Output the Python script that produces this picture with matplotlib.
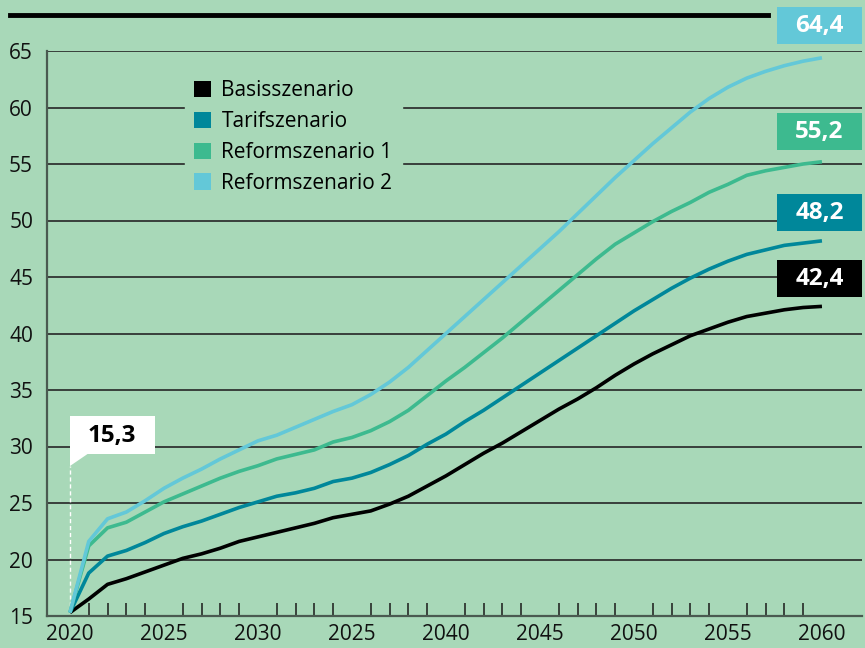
import matplotlib
matplotlib.use("Agg")
import matplotlib.pyplot as plt
from matplotlib.patches import Patch, Rectangle, Polygon
from matplotlib.lines import Line2D

BG = "#A8D8B8"

years = list(range(2020, 2061))

basis = [15.3, 16.5, 17.8, 18.3, 18.9, 19.5, 20.1, 20.5, 21.0, 21.6,
         22.0, 22.4, 22.8, 23.2, 23.7, 24.0, 24.3, 24.9, 25.6, 26.5,
         27.4, 28.4, 29.4, 30.3, 31.3, 32.3, 33.3, 34.2, 35.2, 36.3,
         37.3, 38.2, 39.0, 39.8, 40.4, 41.0, 41.5, 41.8, 42.1, 42.3,
         42.4]
tarif = [15.3, 18.8, 20.3, 20.8, 21.5, 22.3, 22.9, 23.4, 24.0, 24.6,
         25.1, 25.6, 25.9, 26.3, 26.9, 27.2, 27.7, 28.4, 29.2, 30.2,
         31.1, 32.2, 33.2, 34.3, 35.4, 36.5, 37.6, 38.7, 39.8, 40.9,
         42.0, 43.0, 44.0, 44.9, 45.7, 46.4, 47.0, 47.4, 47.8, 48.0,
         48.2]
reform1 = [15.3, 21.2, 22.8, 23.3, 24.2, 25.1, 25.8, 26.5, 27.2, 27.8,
           28.3, 28.9, 29.3, 29.7, 30.4, 30.8, 31.4, 32.2, 33.2, 34.5,
           35.8, 37.0, 38.3, 39.6, 41.0, 42.4, 43.8, 45.2, 46.6, 47.9,
           48.9, 49.9, 50.8, 51.6, 52.5, 53.2, 54.0, 54.4, 54.7, 55.0,
           55.2]
reform2 = [15.3, 21.6, 23.6, 24.2, 25.2, 26.3, 27.2, 28.0, 28.9, 29.7,
           30.5, 31.0, 31.7, 32.4, 33.1, 33.7, 34.6, 35.7, 37.0, 38.5,
           40.0, 41.5, 43.0, 44.5, 46.0, 47.5, 49.0, 50.6, 52.2, 53.8,
           55.3, 56.8, 58.2, 59.6, 60.8, 61.8, 62.6, 63.2, 63.7, 64.1,
           64.4]

series_names = ["Basisszenario", "Tarifszenario", "Reformszenario 1", "Reformszenario 2"]
series_colors = ["#000000", "#00879A", "#3DBA8F", "#63C8D8"]
series_values = [basis, tarif, reform1, reform2]

x_tick_years = [2020, 2025, 2030, 2035, 2040, 2045, 2050, 2055, 2060]
x_tick_labels = ["2020", "2025", "2030", "2025", "2040", "2045", "2050", "2055", "2060"]
y_ticks = [15, 20, 25, 30, 35, 40, 45, 50, 55, 60, 65]

# vertical centre (axes fraction) of the end value boxes
end_box_y = [0.597, 0.714, 0.8575, 1.045]

plt.rcParams["font.family"] = ["Open Sans", "DejaVu Sans"]

fig = plt.figure(figsize=(8.65, 6.48), dpi=100, facecolor=BG)
ax = fig.add_axes([47 / 865, 1 - 616 / 648, 815 / 865, 565 / 648])
ax.set_facecolor(BG)
ax.set_xlim(2018.78, 2062.13)
ax.set_ylim(15, 65)

for yv in y_ticks[1:]:
    ax.axhline(yv, color="#262626", lw=1.2, zorder=1)

for name, color, vals in zip(series_names, series_colors, series_values):
    ax.plot(years, vals, color=color, lw=2.6, zorder=3, solid_capstyle="butt")

for s in ["top", "right"]:
    ax.spines[s].set_visible(False)
for s in ["left", "bottom"]:
    ax.spines[s].set_color("#4a5a50")
    ax.spines[s].set_linewidth(1.6)

ax.set_yticks(y_ticks)
ax.set_yticklabels([str(v) for v in y_ticks])
ax.tick_params(axis="y", length=0, pad=10, labelsize=15, colors="#111111")

ax.set_xticks(x_tick_years)
ax.set_xticklabels(x_tick_labels)
ax.tick_params(axis="x", length=0, pad=6, labelsize=15, colors="#111111")
ax.set_xticks(years[1:], minor=True)
ax.tick_params(axis="x", which="minor", direction="in", length=9.5, width=1.1, color="#1a1a1a")

# start value callout
cx0 = years[0]
ax.plot([cx0, cx0], [basis[0], 28.3], color="white", lw=1, ls=(0, (3, 2)), zorder=2)
ax.add_patch(Polygon([[cx0, 28.3], [cx0, 29.4], [cx0 + 1.0, 29.4]],
                     closed=True, facecolor="white", edgecolor="none", zorder=4))
ax.add_patch(Rectangle((cx0, 29.3), 4.5, 3.4, facecolor="white", edgecolor="none", zorder=4))
ax.text(cx0 + 2.25, 30.95, f"{basis[0]:.1f}".replace(".", ","), ha="center", va="center",
        fontsize=17.5, fontweight="bold", color="black", zorder=5)

# end value boxes
xtr = ax.get_xaxis_transform()
box_w = 4.52
box_h = 0.0655
for color, vals, by in zip(series_colors, series_values, end_box_y):
    ax.add_patch(Rectangle((2057.61, by - box_h / 2), box_w, box_h, transform=xtr,
                           facecolor=color, edgecolor="none", zorder=6, clip_on=False))
    ax.text(2057.61 + box_w / 2, by, f"{vals[-1]:.1f}".replace(".", ","), transform=xtr,
            ha="center", va="center", fontsize=17.5, fontweight="bold", color="white",
            zorder=7, clip_on=False)

# top rule
fig.add_artist(Line2D([10 / 865, 768 / 865], [1 - 15 / 648, 1 - 15 / 648],
                      color="black", lw=3.5))

handles = [Patch(facecolor=c, edgecolor="none", label=n) for n, c in zip(series_names, series_colors)]
leg = ax.legend(handles=handles, loc="upper left", bbox_to_anchor=(185 / 865, 1 - 71 / 648),
                bbox_transform=fig.transFigure, fontsize=15, frameon=True, facecolor=BG,
                edgecolor=BG, framealpha=1, fancybox=False, handlelength=0.82, handleheight=0.82,
                handletextpad=0.48, labelspacing=0.47, borderpad=0.45, borderaxespad=0)
leg.set_zorder(5)

fig.savefig("out.png", dpi=100, facecolor=BG)
